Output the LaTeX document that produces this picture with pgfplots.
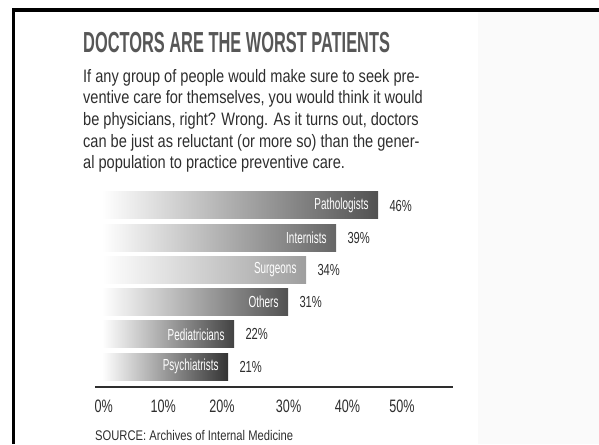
\documentclass[border=0pt]{standalone}
\usepackage{pgfplots}
\pgfplotsset{compat=1.18}
\usepackage{fontspec}
\setmainfont{Liberation Sans}
\newfontfamily\titlef{Liberation Sans}[FakeStretch=0.565]
\newfontfamily\bodyf{Liberation Sans}[FakeStretch=0.81]
\newfontfamily\tickf{Liberation Sans}[FakeStretch=0.7]
\newfontfamily\srcf{Liberation Sans}[FakeStretch=0.8]
\newfontfamily\barf{Liberation Sans}[FakeStretch=0.62]
\definecolor{ink}{HTML}{2E2E2E}
\definecolor{titlegray}{HTML}{575757}

\begin{document}
\begin{tikzpicture}
\begin{axis}[
  x=6bp, y=32.2bp,
  xmin=-1.17, xmax=58.5, ymin=0.363, ymax=6.6,
  hide y axis,
  axis x line*=bottom,
  x axis line style={line width=2bp, color=ink},
  major tick length=0pt,
  xtick={0.3,10.2,20,31.1,40.9,50},
  xticklabels={0\%,10\%,20\%,30\%,40\%,50\%},
  xticklabel style={font=\tickf\fontsize{18bp}{18bp}\selectfont, text=ink, anchor=base, yshift=-25bp},
  /pgf/number format/assume math mode=true,
  clip=false,
  every axis plot/.append style={xbar, bar shift=0pt, bar width=27bp, draw=none},
  name nodes/.style={point meta=explicit symbolic, nodes near coords,
    every node near coord/.append style={anchor=east, xshift=-6bp, text=white,
      font=\barf\fontsize{16bp}{16bp}\selectfont}},
]
% page, light panel and frame (pixel positions turned into axis units)
\path (axis cs:-17,12.382) rectangle (axis cs:82.833,-1.407);
\fill[black!2] (axis cs:62.667,12.0) rectangle (axis cs:82.833,-1.407);
\fill[black] (axis cs:-15,12.134) rectangle (axis cs:82.833,12.009);
\fill[black] (axis cs:-15,12.134) rectangle (axis cs:-14.417,-1.407);

\addplot[left color=white, middle color=black!22, right color=black!68, name nodes]
  coordinates {(46,6) [Pathologists]};
\addplot[left color=white, middle color=black!22, right color=black!60, name nodes]
  coordinates {(39,5) [Internists]};
\addplot[left color=white, middle color=black!14, right color=black!38, name nodes]
  coordinates {(34,4) [Surgeons]};
\addplot[left color=white, middle color=black!22, right color=black!68, name nodes]
  coordinates {(31,3) [Others]};
\addplot[left color=white, middle color=black!25, right color=black!74, name nodes]
  coordinates {(22,2) [Pediatricians]};
\addplot[left color=white, middle color=black!28, right color=black!80, name nodes]
  coordinates {(21,1) [Psychiatrists]};
% percentages
\addplot[fill=none, point meta=x, nodes near coords={\pgfmathprintnumber{\pgfplotspointmeta}\%},
  every node near coord/.append style={anchor=west, xshift=8bp, text=ink,
    font=\tickf\fontsize{16bp}{16bp}\selectfont}]
  coordinates {(46,6) (39,5) (34,4) (31,3) (22,2) (21,1)};

% title and text
\node[anchor=base west, inner sep=0, text=titlegray, font=\titlef\bfseries\fontsize{29bp}{29bp}\selectfont]
  at (axis cs:-3.167,10.736) {DOCTORS ARE THE WORST PATIENTS};
\begin{scope}[every node/.style={anchor=base west, inner sep=0, text=ink, font=\bodyf\fontsize{18bp}{18bp}\selectfont}]
\node at (axis cs:-3.167,9.835) {If any group of people would make sure to seek pre-};
\node at (axis cs:-3.167,9.161) {ventive care for themselves, you would think it would};
\node at (axis cs:-3.167,8.488) {be physicians, right? Wrong. As it turns out, doctors};
\node at (axis cs:-3.167,7.814) {can be just as reluctant (or more so) than the gener-};
\node at (axis cs:-3.167,7.140) {al population to practice preventive care.};
\end{scope}
\node[anchor=base west, inner sep=0, text=ink, font=\srcf\fontsize{14bp}{14bp}\selectfont]
  at (axis cs:-1.167,-1.283) {SOURCE: Archives of Internal Medicine};
\end{axis}
\end{tikzpicture}
\end{document}
